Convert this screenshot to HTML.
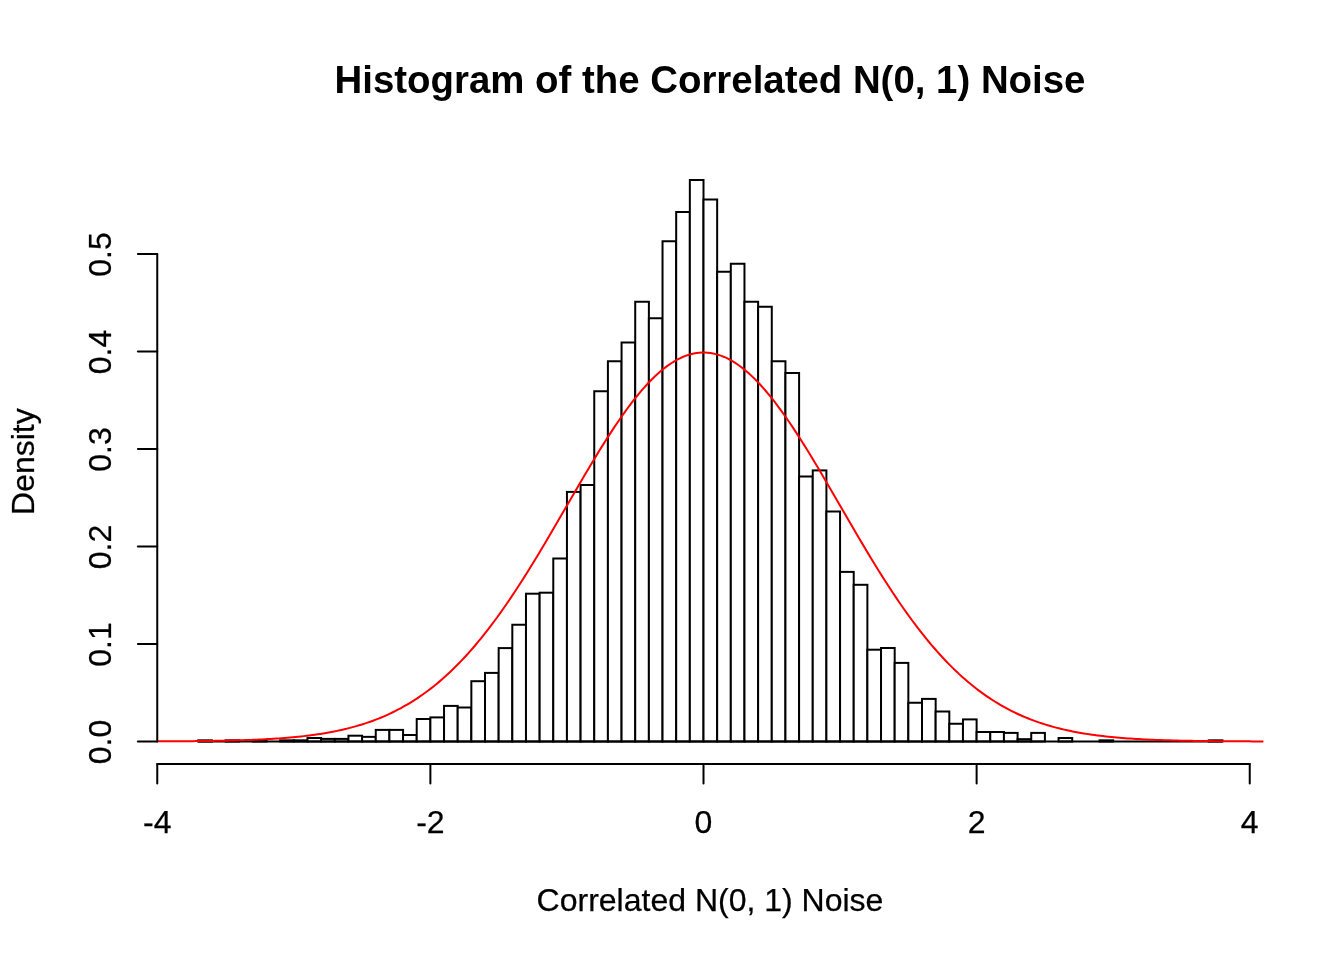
<!DOCTYPE html>
<html><head><meta charset="utf-8"><style>
html,body{margin:0;padding:0;background:#fff;}
svg{display:block;will-change:transform;}
text{font-family:"Liberation Sans",sans-serif;fill:#000;}
</style></head><body>
<svg width="1344" height="960" viewBox="0 0 1344 960">
<rect x="0" y="0" width="1344" height="960" fill="#fff"/>
<text x="710" y="92.6" text-anchor="middle" font-size="38.4" font-weight="bold">Histogram of the Correlated N(0, 1) Noise</text>
<g fill="#fff" stroke="#000" stroke-width="2.0">
<rect x="198.23" y="740.34" width="13.66" height="1.16"/>
<rect x="211.88" y="741.50" width="13.66" height="0.00"/>
<rect x="225.54" y="740.34" width="13.66" height="1.16"/>
<rect x="239.20" y="741.50" width="13.66" height="0.00"/>
<rect x="252.85" y="740.34" width="13.66" height="1.16"/>
<rect x="266.51" y="741.50" width="13.66" height="0.00"/>
<rect x="280.16" y="740.34" width="13.66" height="1.16"/>
<rect x="293.82" y="740.34" width="13.66" height="1.16"/>
<rect x="307.48" y="738.02" width="13.66" height="3.48"/>
<rect x="321.13" y="738.90" width="13.66" height="2.60"/>
<rect x="334.79" y="738.90" width="13.66" height="2.60"/>
<rect x="348.44" y="735.70" width="13.66" height="5.80"/>
<rect x="362.10" y="736.86" width="13.66" height="4.64"/>
<rect x="375.76" y="729.90" width="13.66" height="11.60"/>
<rect x="389.41" y="729.90" width="13.66" height="11.60"/>
<rect x="403.07" y="735.00" width="13.66" height="6.50"/>
<rect x="416.72" y="719.00" width="13.66" height="22.50"/>
<rect x="430.38" y="717.40" width="13.66" height="24.10"/>
<rect x="444.04" y="705.90" width="13.66" height="35.60"/>
<rect x="457.69" y="707.50" width="13.66" height="34.00"/>
<rect x="471.35" y="681.20" width="13.66" height="60.30"/>
<rect x="485.00" y="672.90" width="13.66" height="68.60"/>
<rect x="498.66" y="648.10" width="13.66" height="93.40"/>
<rect x="512.32" y="624.75" width="13.66" height="116.75"/>
<rect x="525.97" y="593.70" width="13.66" height="147.80"/>
<rect x="539.63" y="592.70" width="13.66" height="148.80"/>
<rect x="553.28" y="558.50" width="13.66" height="183.00"/>
<rect x="566.94" y="491.90" width="13.66" height="249.60"/>
<rect x="580.60" y="485.00" width="13.66" height="256.50"/>
<rect x="594.25" y="391.25" width="13.66" height="350.25"/>
<rect x="607.91" y="361.25" width="13.66" height="380.25"/>
<rect x="621.56" y="342.50" width="13.66" height="399.00"/>
<rect x="635.22" y="301.75" width="13.66" height="439.75"/>
<rect x="648.88" y="318.25" width="13.66" height="423.25"/>
<rect x="662.53" y="241.25" width="13.66" height="500.25"/>
<rect x="676.19" y="212.00" width="13.66" height="529.50"/>
<rect x="689.84" y="180.00" width="13.66" height="561.50"/>
<rect x="703.50" y="199.50" width="13.66" height="542.00"/>
<rect x="717.16" y="271.75" width="13.66" height="469.75"/>
<rect x="730.81" y="263.75" width="13.66" height="477.75"/>
<rect x="744.47" y="301.75" width="13.66" height="439.75"/>
<rect x="758.12" y="306.75" width="13.66" height="434.75"/>
<rect x="771.78" y="361.25" width="13.66" height="380.25"/>
<rect x="785.44" y="373.00" width="13.66" height="368.50"/>
<rect x="799.09" y="476.50" width="13.66" height="265.00"/>
<rect x="812.75" y="470.40" width="13.66" height="271.10"/>
<rect x="826.40" y="511.50" width="13.66" height="230.00"/>
<rect x="840.06" y="571.90" width="13.66" height="169.60"/>
<rect x="853.72" y="584.80" width="13.66" height="156.70"/>
<rect x="867.37" y="649.70" width="13.66" height="91.80"/>
<rect x="881.03" y="648.00" width="13.66" height="93.50"/>
<rect x="894.68" y="662.90" width="13.66" height="78.60"/>
<rect x="908.34" y="702.75" width="13.66" height="38.75"/>
<rect x="922.00" y="698.90" width="13.66" height="42.60"/>
<rect x="935.65" y="711.50" width="13.66" height="30.00"/>
<rect x="949.31" y="723.75" width="13.66" height="17.75"/>
<rect x="962.96" y="719.40" width="13.66" height="22.10"/>
<rect x="976.62" y="732.00" width="13.66" height="9.50"/>
<rect x="990.28" y="732.00" width="13.66" height="9.50"/>
<rect x="1003.93" y="732.90" width="13.66" height="8.60"/>
<rect x="1017.59" y="739.18" width="13.66" height="2.32"/>
<rect x="1031.24" y="732.90" width="13.66" height="8.60"/>
<rect x="1044.90" y="741.50" width="13.66" height="0.00"/>
<rect x="1058.56" y="738.02" width="13.66" height="3.48"/>
<rect x="1072.21" y="741.50" width="13.66" height="0.00"/>
<rect x="1085.87" y="741.50" width="13.66" height="0.00"/>
<rect x="1099.52" y="740.34" width="13.66" height="1.16"/>
<rect x="1113.18" y="741.50" width="13.66" height="0.00"/>
<rect x="1126.84" y="741.50" width="13.66" height="0.00"/>
<rect x="1140.49" y="741.50" width="13.66" height="0.00"/>
<rect x="1154.15" y="741.50" width="13.66" height="0.00"/>
<rect x="1167.80" y="741.50" width="13.66" height="0.00"/>
<rect x="1181.46" y="741.50" width="13.66" height="0.00"/>
<rect x="1195.12" y="741.50" width="13.66" height="0.00"/>
<rect x="1208.77" y="740.34" width="13.66" height="1.16"/>
<line x1="198.23" y1="741.5" x2="1222.43" y2="741.5"/>
</g>
<polyline fill="none" stroke="#ff0000" stroke-width="2.0" points="157.26,741.37 160.03,741.36 162.79,741.35 165.56,741.33 168.32,741.32 171.09,741.31 173.85,741.29 176.62,741.27 179.38,741.25 182.15,741.23 184.91,741.21 187.68,741.19 190.44,741.17 193.21,741.14 195.97,741.11 198.74,741.08 201.51,741.05 204.27,741.01 207.04,740.98 209.80,740.94 212.57,740.89 215.33,740.85 218.10,740.80 220.86,740.75 223.63,740.69 226.39,740.63 229.16,740.57 231.92,740.50 234.69,740.43 237.45,740.35 240.22,740.27 242.99,740.18 245.75,740.09 248.52,739.99 251.28,739.88 254.05,739.77 256.81,739.65 259.58,739.53 262.34,739.39 265.11,739.25 267.87,739.10 270.64,738.94 273.40,738.77 276.17,738.59 278.93,738.40 281.70,738.20 284.47,737.99 287.23,737.77 290.00,737.53 292.76,737.28 295.53,737.01 298.29,736.74 301.06,736.44 303.82,736.13 306.59,735.80 309.35,735.46 312.12,735.10 314.88,734.72 317.65,734.32 320.42,733.90 323.18,733.45 325.95,732.99 328.71,732.50 331.48,731.99 334.24,731.45 337.01,730.89 339.77,730.29 342.54,729.68 345.30,729.03 348.07,728.35 350.83,727.64 353.60,726.90 356.36,726.13 359.13,725.32 361.90,724.47 364.66,723.59 367.43,722.67 370.19,721.72 372.96,720.72 375.72,719.68 378.49,718.60 381.25,717.47 384.02,716.30 386.78,715.08 389.55,713.82 392.31,712.50 395.08,711.14 397.84,709.73 400.61,708.26 403.38,706.74 406.14,705.17 408.91,703.54 411.67,701.85 414.44,700.10 417.20,698.30 419.97,696.44 422.73,694.51 425.50,692.52 428.26,690.47 431.03,688.36 433.79,686.18 436.56,683.93 439.32,681.62 442.09,679.24 444.86,676.79 447.62,674.28 450.39,671.69 453.15,669.04 455.92,666.31 458.68,663.51 461.45,660.65 464.21,657.71 466.98,654.70 469.74,651.62 472.51,648.47 475.27,645.25 478.04,641.96 480.80,638.59 483.57,635.16 486.34,631.66 489.10,628.09 491.87,624.45 494.63,620.74 497.40,616.97 500.16,613.13 502.93,609.22 505.69,605.26 508.46,601.23 511.22,597.15 513.99,593.00 516.75,588.80 519.52,584.55 522.28,580.24 525.05,575.88 527.82,571.47 530.58,567.02 533.35,562.53 536.11,557.99 538.88,553.42 541.64,548.81 544.41,544.17 547.17,539.50 549.94,534.80 552.70,530.09 555.47,525.35 558.23,520.60 561.00,515.83 563.76,511.06 566.53,506.29 569.30,501.51 572.06,496.74 574.83,491.97 577.59,487.21 580.36,482.48 583.12,477.76 585.89,473.06 588.65,468.39 591.42,463.76 594.18,459.16 596.95,454.61 599.71,450.10 602.48,445.64 605.25,441.24 608.01,436.89 610.78,432.61 613.54,428.40 616.31,424.26 619.07,420.20 621.84,416.22 624.60,412.32 627.37,408.52 630.13,404.80 632.90,401.19 635.66,397.68 638.43,394.28 641.19,390.98 643.96,387.80 646.73,384.74 649.49,381.79 652.26,378.98 655.02,376.28 657.79,373.73 660.55,371.30 663.32,369.01 666.08,366.86 668.85,364.85 671.61,362.99 674.38,361.28 677.14,359.71 679.91,358.29 682.67,357.03 685.44,355.92 688.21,354.96 690.97,354.17 693.74,353.52 696.50,353.04 699.27,352.72 702.03,352.55 704.80,352.55 707.56,352.70 710.33,353.02 713.09,353.49 715.86,354.12 718.62,354.91 721.39,355.85 724.15,356.96 726.92,358.21 729.69,359.62 732.45,361.17 735.22,362.88 737.98,364.74 740.75,366.73 743.51,368.87 746.28,371.15 749.04,373.57 751.81,376.12 754.57,378.81 757.34,381.62 760.10,384.55 762.87,387.61 765.63,390.78 768.40,394.07 771.17,397.47 773.93,400.97 776.70,404.58 779.46,408.28 782.23,412.08 784.99,415.97 787.76,419.95 790.52,424.01 793.29,428.14 796.05,432.35 798.82,436.63 801.58,440.97 804.35,445.37 807.11,449.82 809.88,454.33 812.65,458.88 815.41,463.48 818.18,468.11 820.94,472.77 823.71,477.47 826.47,482.18 829.24,486.92 832.00,491.68 834.77,496.44 837.53,501.21 840.30,505.99 843.06,510.77 845.83,515.54 848.60,520.30 851.36,525.06 854.13,529.79 856.89,534.51 859.66,539.21 862.42,543.88 865.19,548.52 867.95,553.13 870.72,557.71 873.48,562.25 876.25,566.74 879.01,571.20 881.78,575.61 884.54,579.97 887.31,584.28 890.08,588.54 892.84,592.74 895.61,596.89 898.37,600.98 901.14,605.01 903.90,608.98 906.67,612.89 909.43,616.73 912.20,620.51 914.96,624.22 917.73,627.86 920.49,631.44 923.26,634.95 926.02,638.38 928.79,641.75 931.56,645.05 934.32,648.27 937.09,651.43 939.85,654.51 942.62,657.53 945.38,660.47 948.15,663.34 950.91,666.14 953.68,668.87 956.44,671.53 959.21,674.12 961.97,676.64 964.74,679.09 967.50,681.47 970.27,683.79 973.04,686.04 975.80,688.22 978.57,690.34 981.33,692.40 984.10,694.39 986.86,696.32 989.63,698.19 992.39,699.99 995.16,701.74 997.92,703.43 1000.69,705.07 1003.45,706.65 1006.22,708.17 1008.98,709.64 1011.75,711.06 1014.52,712.42 1017.28,713.74 1020.05,715.01 1022.81,716.23 1025.58,717.40 1028.34,718.53 1031.11,719.61 1033.87,720.66 1036.64,721.66 1039.40,722.62 1042.17,723.54 1044.93,724.42 1047.70,725.27 1050.46,726.08 1053.23,726.85 1056.00,727.60 1058.76,728.31 1061.53,728.99 1064.29,729.64 1067.06,730.26 1069.82,730.85 1072.59,731.41 1075.35,731.95 1078.12,732.47 1080.88,732.96 1083.65,733.42 1086.41,733.87 1089.18,734.29 1091.94,734.69 1094.71,735.08 1097.48,735.44 1100.24,735.78 1103.01,736.11 1105.77,736.42 1108.54,736.72 1111.30,737.00 1114.07,737.26 1116.83,737.51 1119.60,737.75 1122.36,737.98 1125.13,738.19 1127.89,738.39 1130.66,738.58 1133.43,738.76 1136.19,738.93 1138.96,739.09 1141.72,739.24 1144.49,739.38 1147.25,739.52 1150.02,739.65 1152.78,739.76 1155.55,739.88 1158.31,739.98 1161.08,740.08 1163.84,740.17 1166.61,740.26 1169.37,740.34 1172.14,740.42 1174.91,740.49 1177.67,740.56 1180.44,740.63 1183.20,740.69 1185.97,740.74 1188.73,740.79 1191.50,740.84 1194.26,740.89 1197.03,740.93 1199.79,740.97 1202.56,741.01 1205.32,741.05 1208.09,741.08 1210.85,741.11 1213.62,741.14 1216.39,741.16 1219.15,741.19 1221.92,741.21 1224.68,741.23 1227.45,741.25 1230.21,741.27 1232.98,741.29 1235.74,741.30 1238.51,741.32 1241.27,741.33 1244.04,741.35 1246.80,741.36 1249.57,741.37 1252.33,741.38 1255.10,741.39 1257.87,741.40 1260.63,741.41 1263.40,741.41"/>
<g stroke="#000" stroke-width="2.0" stroke-linecap="round">
<line x1="157.26" y1="764.0" x2="1249.74" y2="764.0"/>
<line x1="157.26" y1="764.0" x2="157.26" y2="783.4"/>
<line x1="430.38" y1="764.0" x2="430.38" y2="783.4"/>
<line x1="703.50" y1="764.0" x2="703.50" y2="783.4"/>
<line x1="976.62" y1="764.0" x2="976.62" y2="783.4"/>
<line x1="1249.74" y1="764.0" x2="1249.74" y2="783.4"/>
<line x1="157.25" y1="741.5" x2="157.25" y2="254.0"/>
<line x1="157.25" y1="741.50" x2="137.85" y2="741.50"/>
<line x1="157.25" y1="644.00" x2="137.85" y2="644.00"/>
<line x1="157.25" y1="546.50" x2="137.85" y2="546.50"/>
<line x1="157.25" y1="449.00" x2="137.85" y2="449.00"/>
<line x1="157.25" y1="351.50" x2="137.85" y2="351.50"/>
<line x1="157.25" y1="254.00" x2="137.85" y2="254.00"/>
</g>
<g font-size="32" stroke="#000" stroke-width="0.25">
<text x="157.26" y="833.4" text-anchor="middle">-4</text>
<text x="430.38" y="833.4" text-anchor="middle">-2</text>
<text x="703.50" y="833.4" text-anchor="middle">0</text>
<text x="976.62" y="833.4" text-anchor="middle">2</text>
<text x="1249.74" y="833.4" text-anchor="middle">4</text>
<text transform="translate(111,742.00) rotate(-90)" text-anchor="middle">0.0</text>
<text transform="translate(111,644.50) rotate(-90)" text-anchor="middle">0.1</text>
<text transform="translate(111,547.00) rotate(-90)" text-anchor="middle">0.2</text>
<text transform="translate(111,449.50) rotate(-90)" text-anchor="middle">0.3</text>
<text transform="translate(111,352.00) rotate(-90)" text-anchor="middle">0.4</text>
<text transform="translate(111,254.50) rotate(-90)" text-anchor="middle">0.5</text>
<text x="710" y="911" text-anchor="middle">Correlated N(0, 1) Noise</text>
<text transform="translate(34.2,461.6) rotate(-90)" text-anchor="middle">Density</text>
</g>
</svg>
</body></html>
